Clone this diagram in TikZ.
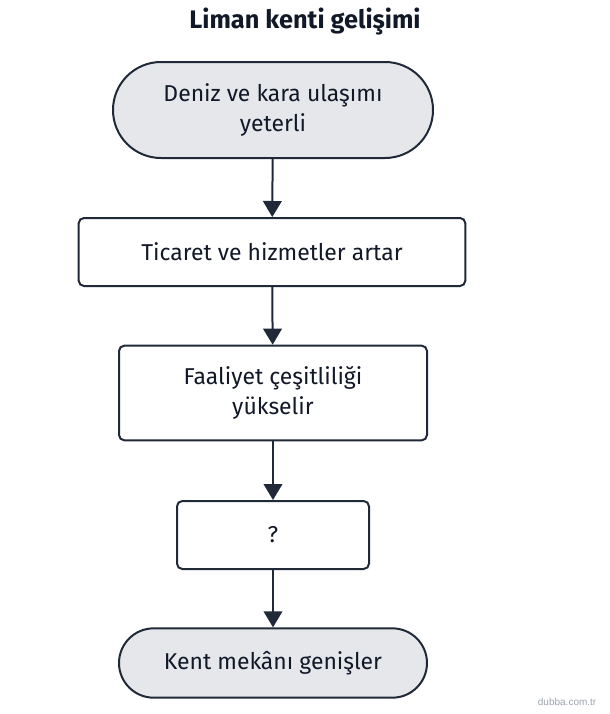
\documentclass[tikz,border=0pt]{standalone}
\usepackage{fontspec}
\setmainfont{Fira Sans}
\newfontfamily\markfont{Liberation Sans}
\usepackage{xcolor}
\usetikzlibrary{arrows.meta}
\definecolor{ink}{HTML}{1F2937}
\definecolor{txt}{HTML}{111827}
\definecolor{pale}{HTML}{E5E7EB}
\definecolor{mark}{HTML}{9CA3AF}
\tikzset{
  terminal/.style={draw=ink, line width=1.5pt, fill=pale, text=txt, align=center,
    rounded corners=#1, font=\fontsize{17.2}{22.5}\selectfont, inner sep=0pt},
  process/.style={draw=ink, line width=1.5pt, fill=white, text=txt, align=center,
    rounded corners=4pt, font=\fontsize{17.2}{22.5}\selectfont, inner sep=0pt},
  flow/.style={draw=ink, line width=1.5pt, -{Triangle[length=12pt,width=14pt]}},
}

\begin{document}
\begin{tikzpicture}[x=0.75pt,y=-0.75pt]
\useasboundingbox (0,0) rectangle (610,714);
\node[font=\bfseries\fontsize{19}{22}\selectfont, text=txt] (title) at (305,22) {Liman kenti gelişimi};

\node[terminal=36pt, minimum width=240pt, minimum height=72pt] (start) at (273,110)
  {Deniz ve kara ulaşımı\\yeterli};
\node[process, minimum width=290pt, minimum height=51pt] (trade) at (272,252)
  {Ticaret ve hizmetler artar};
\node[process, minimum width=231pt, minimum height=71pt] (variety) at (273,393)
  {Faaliyet çeşitliliği\\yükselir};
\node[process, minimum width=144pt, minimum height=51pt] (unknown) at (273,535) {?};
\node[terminal=26pt, minimum width=231pt, minimum height=52pt] (expand) at (273,663)
  {Kent mekânı genişler};

\draw[flow] (start) -- (trade);
\draw[flow] (trade) -- (variety);
\draw[flow] (variety) -- (unknown);
\draw[flow] (unknown) -- (expand);

\node[font=\markfont\fontsize{7.5}{9}\selectfont, text=mark, anchor=east] (site) at (601,702) {dubba.com.tr};
\end{tikzpicture}
\end{document}
